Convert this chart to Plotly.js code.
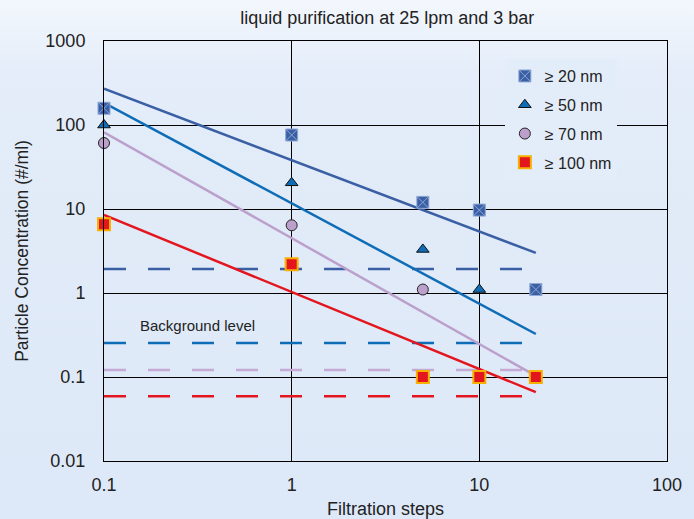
<!DOCTYPE html>
<html>
<head>
<meta charset="utf-8">
<script src="https://cdn.plot.ly/plotly-3.0.1.min.js"></script>
<style>
html,body{margin:0;padding:0;}
#chart{width:694px;height:519px;background:linear-gradient(to bottom,#f3f7fd 0%,#e4edf9 14%,#e1ebf8 40%,#dde8f8 100%);}
</style>
</head>
<body>
<div id="chart"></div>
<script>
const steps = [0.1, 1, 5, 10, 20];
const c20 = [158, 76, 12, 9.7, 1.1];
const c50 = [100, 20.5, 3.3, 1.1];
const x50 = [0.1, 1, 5, 10];
const c70 = [61, 6.4, 1.1];
const x70 = [0.1, 1, 5];
const c100 = [6.6, 2.2, 0.1, 0.1, 0.1];
const fitX = [0.1, 20];
const fit20 = [270, 3.0];
const fit50 = [183, 0.325];
const fit70 = [82, 0.103];
const fit100 = [8.5, 0.066];
const bg20 = 1.93, bg50 = 0.254, bg70 = 0.121, bg100 = 0.059;
const names = ['\u2265 20 nm', '\u2265 50 nm', '\u2265 70 nm', '\u2265 100 nm'];
const xTicks = [0.1, 1, 10, 100];
const xTickText = ['0.1', '1', '10', '100'];
const yTicks = [0.01, 0.1, 1, 10, 100, 1000];
const yTickText = ['0.01', '0.1', '1', '10', '100', '1000'];

const col20 = '#3a5fa4', col50 = '#0f6cb6', col70 = '#bba0cc', col100 = '#e3161f';
const FONT = '"Liberation Sans", Arial, Helvetica, sans-serif';

function line(y, color){
  return {x: fitX, y: y, mode: 'lines', line: {color: color, width: 2.5}, showlegend: false, hoverinfo: 'skip'};
}
function dash(v, color){
  return {x: fitX, y: [v, v], mode: 'lines', line: {color: color, width: 2.5, dash: '22px,22px'}, showlegend: false, hoverinfo: 'skip'};
}
const traces = [
  dash(bg20, col20), dash(bg50, col50), dash(bg70, '#c4aad4'), dash(bg100, col100),
  line(fit20, col20), line(fit50, col50), line(fit70, col70), line(fit100, col100),
  {x: steps, y: c20, name: names[0], legendgroup: 'a', cliponaxis: false, mode: 'markers', marker: {symbol: 'square-x', size: 12, color: col20, line: {color: '#8fa9d6', width: 1}}},
  {x: x50, y: c50, name: names[1], legendgroup: 'b', cliponaxis: false, mode: 'markers', marker: {symbol: 'triangle-up', size: 11, color: col50, line: {color: '#111', width: 1}}},
  {x: x70, y: c70, name: names[2], legendgroup: 'c', cliponaxis: false, mode: 'markers', marker: {symbol: 'circle', size: 11, color: col70, line: {color: '#222', width: 1}}},
  {x: steps, y: c100, name: names[3], legendgroup: 'd', cliponaxis: false, mode: 'markers', marker: {symbol: 'square', size: 12, color: col100, line: {color: '#f5b000', width: 2}}}
];

const layout = {
  width: 694, height: 519,
  margin: {l: 104, r: 27, t: 41, b: 58},
  paper_bgcolor: 'rgba(0,0,0,0)',
  plot_bgcolor: 'rgba(0,0,0,0)',
  font: {family: FONT, color: '#222', size: 17},
  title: {text: 'liquid purification at 25 lpm and 3 bar', font: {size: 18, color: '#222'}, x: 0.558, xanchor: 'center', y: 0.965, yanchor: 'middle'},
  xaxis: {
    type: 'log', range: [-1, 2], tickvals: xTicks, ticktext: xTickText,
    showgrid: true, gridcolor: '#000', gridwidth: 1,
    showline: true, linecolor: '#000', linewidth: 1, mirror: true,
    zeroline: false, ticks: '', ticklabelstandoff: 7,
    tickfont: {size: 18},
    title: {text: 'Filtration steps', font: {size: 18}, standoff: 10}
  },
  yaxis: {
    type: 'log', range: [-2, 3], tickvals: yTicks, ticktext: yTickText,
    showgrid: true, gridcolor: '#000', gridwidth: 1,
    showline: true, linecolor: '#000', linewidth: 1, mirror: true,
    zeroline: false, ticks: '', ticklabelstandoff: 14,
    tickfont: {size: 18},
    title: {text: 'Particle Concentration (#/ml)', font: {size: 17.5}, standoff: 12}
  },
  legend: {
    x: 0.712, y: 0.957, xanchor: 'left', yanchor: 'top',
    bgcolor: '#e3edf9', borderwidth: 0,
    font: {size: 16}, itemwidth: 30, tracegroupgap: 5
  },
  annotations: [
    {x: Math.log10(0.151), y: Math.log10(0.416), xref: 'x', yref: 'y', text: 'Background level', showarrow: false, xanchor: 'left', yanchor: 'middle', font: {size: 15, color: '#222'}}
  ],
  showlegend: true
};
Plotly.newPlot('chart', traces, layout, {displayModeBar: false, staticPlot: true});
</script>
</body>
</html>
